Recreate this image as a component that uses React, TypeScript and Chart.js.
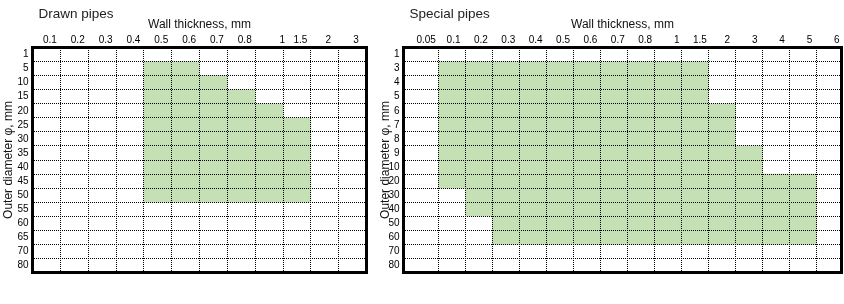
import React, { useEffect, useRef } from 'react';
import { Chart, registerables } from 'chart.js';

Chart.register(...registerables);

const FONT = '"Liberation Sans", Arial, Helvetica, sans-serif';
const GREEN = '#c5e0b4';
const INK = '#000000';

// ---- Drawn pipes ----
const drawnThickness = ['0.1', '0.2', '0.3', '0.4', '0.5', '0.6', '0.7', '0.8', '1', '1.5', '2', '3'];
const drawnDiameter = ['1', '5', '10', '15', '20', '25', '30', '35', '40', '45', '50', '55', '60', '65', '70', '80'];
// first and last available wall thickness for every diameter row (null = none)
const drawnFrom = [null, '0.5', '0.5', '0.5', '0.5', '0.5', '0.5', '0.5', '0.5', '0.5', '0.5', null, null, null, null, null];
const drawnTo = [null, '0.6', '0.7', '0.8', '1', '1.5', '1.5', '1.5', '1.5', '1.5', '1.5', null, null, null, null, null];

// ---- Special pipes ----
const specialThickness = ['0.05', '0.1', '0.2', '0.3', '0.4', '0.5', '0.6', '0.7', '0.8', '1', '1.5', '2', '3', '4', '5', '6'];
const specialDiameter = ['1', '3', '4', '5', '6', '7', '8', '9', '10', '20', '30', '40', '50', '60', '70', '80'];
const specialFrom = [null, '0.1', '0.1', '0.1', '0.1', '0.1', '0.1', '0.1', '0.1', '0.1', '0.2', '0.2', '0.3', '0.3', null, null];
const specialTo = [null, '1.5', '1.5', '1.5', '2', '2', '2', '3', '3', '5', '5', '5', '5', '5', null, null];

type PanelSpec = {
  title: string;
  titleDx: number;
  thickness: string[];
  diameter: string[];
  from: (string | null)[];
  to: (string | null)[];
  colWidths: number[];
  width: number;
  yAxisWidth: number;
  yTitlePad: number;
  padRight: number;
  labelOffset: number;
  oneNudge: number;
};

function buildConfig(p: PanelSpec): any {
  const edges: number[] = [0];
  p.colWidths.forEach((w) => edges.push(edges[edges.length - 1] + w));
  const min = edges[0];
  const max = edges[edges.length - 1];
  const n = p.thickness.length;
  const labelPos = p.thickness.map((_, i) => min + ((i + 0.5) * (max - min)) / n);
  const col = (t: string) => p.thickness.indexOf(t);
  const data = p.diameter.map((_, r) => {
    const f = p.from[r];
    const t = p.to[r];
    if (f == null || t == null) return null;
    return [edges[col(f)], edges[col(t) + 1]];
  });

  const tickFont = { family: FONT, size: 10 };
  const titleFont = { family: FONT, size: 12 };

  const cornerTitle = {
    id: 'cornerTitle',
    afterDraw(chart: any) {
      const { ctx, chartArea } = chart;
      ctx.save();
      ctx.font = `13.5px ${FONT}`;
      ctx.fillStyle = '#222';
      ctx.textAlign = 'left';
      ctx.textBaseline = 'alphabetic';
      ctx.fillText(p.title, chartArea.left + p.titleDx, 18);
      ctx.restore();
    },
  };

  return {
    type: 'bar',
    data: {
      labels: p.diameter,
      datasets: [
        {
          label: p.title,
          data,
          backgroundColor: GREEN,
          borderWidth: 0,
          barPercentage: 1,
          categoryPercentage: 1,
          xAxisID: 'xg',
          yAxisID: 'y',
        },
      ],
    },
    plugins: [cornerTitle],
    options: {
      indexAxis: 'y',
      animation: false,
      responsive: false,
      maintainAspectRatio: false,
      layout: { padding: { left: 0, top: 0, right: p.padRight, bottom: 31.5 } },
      plugins: { legend: { display: false }, tooltip: { enabled: false }, title: { display: false } },
      scales: {
        y: {
          type: 'category',
          position: 'left',
          offset: true,
          grid: { display: true, offset: true, color: INK, lineWidth: 1, drawTicks: false, z: 1 },
          border: { display: true, color: INK, width: 3, dash: [1, 1], z: 2 },
          ticks: { color: INK, font: tickFont, padding: 4, autoSkip: false },
          title: {
            display: true,
            text: 'Outer diameter φ, mm',
            color: '#111',
            font: titleFont,
            padding: { top: p.yTitlePad, bottom: 0 },
          },
          afterFit: (s: any) => {
            s.width = p.yAxisWidth;
          },
        },
        xl: {
          type: 'linear',
          position: 'top',
          min,
          max,
          afterBuildTicks: (s: any) => {
            s.ticks = labelPos.map((v) => ({ value: v }));
          },
          ticks: {
            color: INK,
            font: tickFont,
            padding: 1,
            autoSkip: false,
            maxRotation: 0,
            minRotation: 0,
            labelOffset: p.labelOffset,
            callback: (_v: any, i: number) => {
              const t = p.thickness[i];
              return t === '1' ? '\u00a0'.repeat(p.oneNudge) + t : t;
            },
          },
          grid: { display: false, drawTicks: false },
          border: { display: true, color: INK, width: 3, z: 2 },
          title: {
            display: true,
            text: 'Wall thickness, mm',
            color: '#111',
            font: titleFont,
            padding: { top: 17, bottom: 0 },
          },
          afterFit: (s: any) => {
            s.height = 47.5;
          },
        },
        xg: {
          type: 'linear',
          position: 'top',
          min,
          max,
          afterBuildTicks: (s: any) => {
            s.ticks = edges.map((v) => ({ value: v }));
          },
          ticks: { display: false },
          grid: { display: true, color: INK, lineWidth: 1, drawTicks: false, z: 1 },
          border: { display: false, dash: [1, 1] },
          afterFit: (s: any) => {
            s.height = 0;
          },
        },
        xb: {
          type: 'linear',
          position: 'bottom',
          min,
          max,
          ticks: { display: false },
          grid: { display: false, drawTicks: false, lineWidth: 3 },
          border: { display: true, color: INK, width: 3, z: 2 },
          afterFit: (s: any) => {
            s.height = 0;
          },
        },
        yr: {
          type: 'linear',
          position: 'right',
          ticks: { display: false },
          grid: { display: false, drawTicks: false, lineWidth: 3 },
          border: { display: true, color: INK, width: 3, z: 2 },
          afterFit: (s: any) => {
            s.width = 0;
          },
        },
      },
    },
  };
}

function Panel({ spec, left }: { spec: PanelSpec; left: number }) {
  const ref = useRef<HTMLCanvasElement | null>(null);
  useEffect(() => {
    if (!ref.current) return;
    const chart = new Chart(ref.current, buildConfig(spec));
    return () => chart.destroy();
  }, [spec]);
  return (
    <canvas
      ref={ref}
      width={spec.width}
      height={304}
      style={{ position: 'absolute', left, top: 0, width: spec.width, height: 304 }}
    />
  );
}

const drawnSpec: PanelSpec = {
  title: 'Drawn pipes',
  titleDx: 6,
  thickness: drawnThickness,
  diameter: drawnDiameter,
  from: drawnFrom,
  to: drawnTo,
  colWidths: drawnThickness.map(() => 1),
  width: 376,
  yAxisWidth: 32.5,
  yTitlePad: 1.3,
  padRight: 9.5,
  labelOffset: 3.5,
  oneNudge: 7,
};

const specialSpec: PanelSpec = {
  title: 'Special pipes',
  titleDx: 6,
  thickness: specialThickness,
  diameter: specialDiameter,
  from: specialFrom,
  to: specialTo,
  colWidths: specialThickness.map((_, i) => (i === 0 ? 1.296 : i === specialThickness.length - 1 ? 0.926 : 1)),
  width: 468,
  yAxisWidth: 27.5,
  yTitlePad: 2,
  padRight: 2.5,
  labelOffset: 9,
  oneNudge: 3,
};

export default function App() {
  return (
    <div style={{ position: 'absolute', left: 0, top: 0, width: 844, height: 304, background: '#ffffff', overflow: 'hidden' }}>
      <Panel spec={drawnSpec} left={0} />
      <Panel spec={specialSpec} left={376} />
    </div>
  );
}
